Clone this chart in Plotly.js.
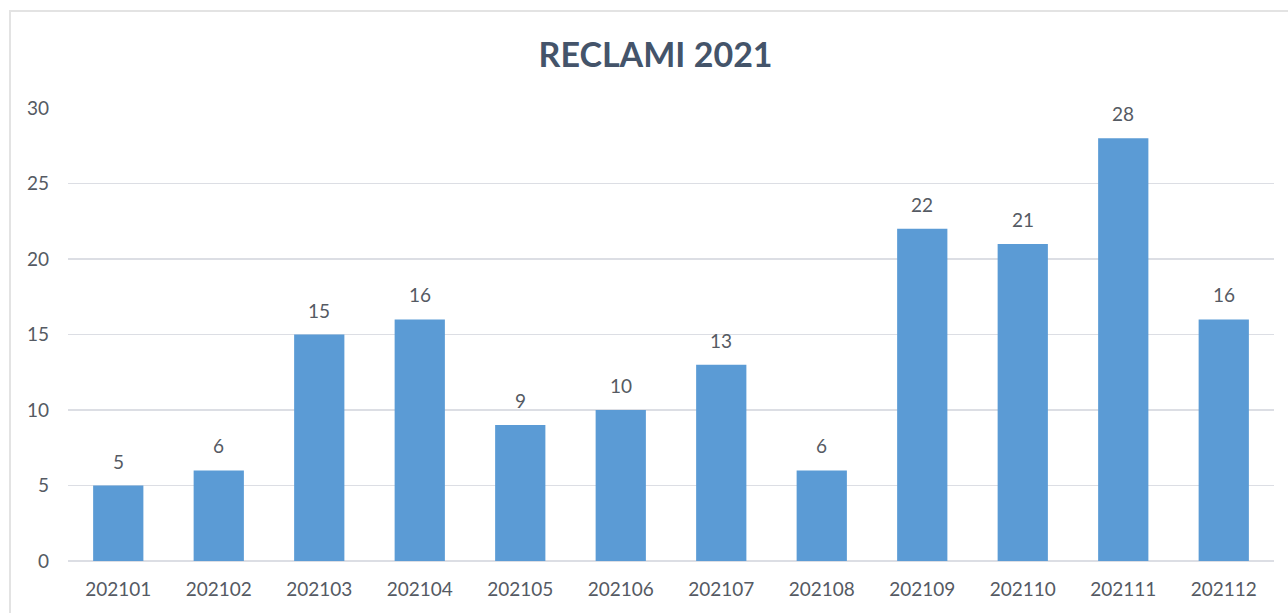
<!DOCTYPE html>
<html>
<head>
<meta charset="utf-8">
<script src="https://cdn.plot.ly/plotly-3.0.1.min.js"></script>
<style>
  html, body { margin: 0; padding: 0; background: #ffffff; overflow: hidden; }
  #frame { position: absolute; left: 9px; top: 10px; width: 1300px; height: 640px; border: 2px solid #e3e3e3; box-sizing: border-box; }
  #chart { position: absolute; left: 0; top: 0; width: 1288px; height: 613px; }
</style>
</head>
<body>
<div id="frame"></div>
<div id="chart"></div>
<script>
const categories = ["202101","202102","202103","202104","202105","202106","202107","202108","202109","202110","202111","202112"];
const reclami = [5, 6, 15, 16, 9, 10, 13, 6, 22, 21, 28, 16];
const yTicks = [0, 5, 10, 15, 20, 25, 30];

const FONT = 'Lato, "Open Sans", sans-serif';
const LABEL_COLOR = '#555a63';

const trace = {
  type: 'bar',
  x: categories,
  y: reclami,
  marker: { color: '#5b9bd5', line: { width: 0 } },
  hoverinfo: 'x+y'
};

// category axis: annotation x given as the category's index
const annotations = categories.map((c, i) => ({
  x: i,
  y: reclami[i],
  xref: 'x',
  yref: 'y',
  text: String(reclami[i]),
  showarrow: false,
  yanchor: 'bottom',
  yshift: 11,
  font: { family: FONT, size: 19, color: LABEL_COLOR }
}));

const layout = {
  width: 1288,
  height: 613,
  margin: { l: 68, r: 14, t: 108, b: 52 },
  paper_bgcolor: 'rgba(0,0,0,0)',
  plot_bgcolor: 'rgba(0,0,0,0)',
  bargap: 0.5,
  showlegend: false,
  annotations: annotations,
  title: {
    text: '<b>RECLAMI 2021</b>',
    x: 0.509, xanchor: 'center',
    y: 0.91, yanchor: 'middle',
    font: { family: FONT, size: 34, color: '#44546a' }
  },
  xaxis: {
    type: 'category',
    categoryorder: 'array',
    categoryarray: categories,
    tickvals: categories,
    ticktext: categories,
    tickangle: 0,
    showgrid: false,
    showline: false,
    zeroline: false,
    ticks: '',
    tickfont: { family: FONT, size: 19, color: LABEL_COLOR },
    ticklabelstandoff: 15
  },
  yaxis: {
    range: [0, 30],
    tickvals: yTicks,
    ticktext: yTicks.map(String),
    showgrid: true,
    gridcolor: '#dcdee4',
    gridwidth: 1.5,
    zeroline: true,
    zerolinecolor: '#dcdee4',
    zerolinewidth: 1.5,
    showline: false,
    ticks: '',
    ticklabelstandoff: 18,
    tickfont: { family: FONT, size: 19, color: LABEL_COLOR }
  }
};

Plotly.newPlot('chart', [trace], layout, { displayModeBar: false, staticPlot: true });
</script>
</body>
</html>
